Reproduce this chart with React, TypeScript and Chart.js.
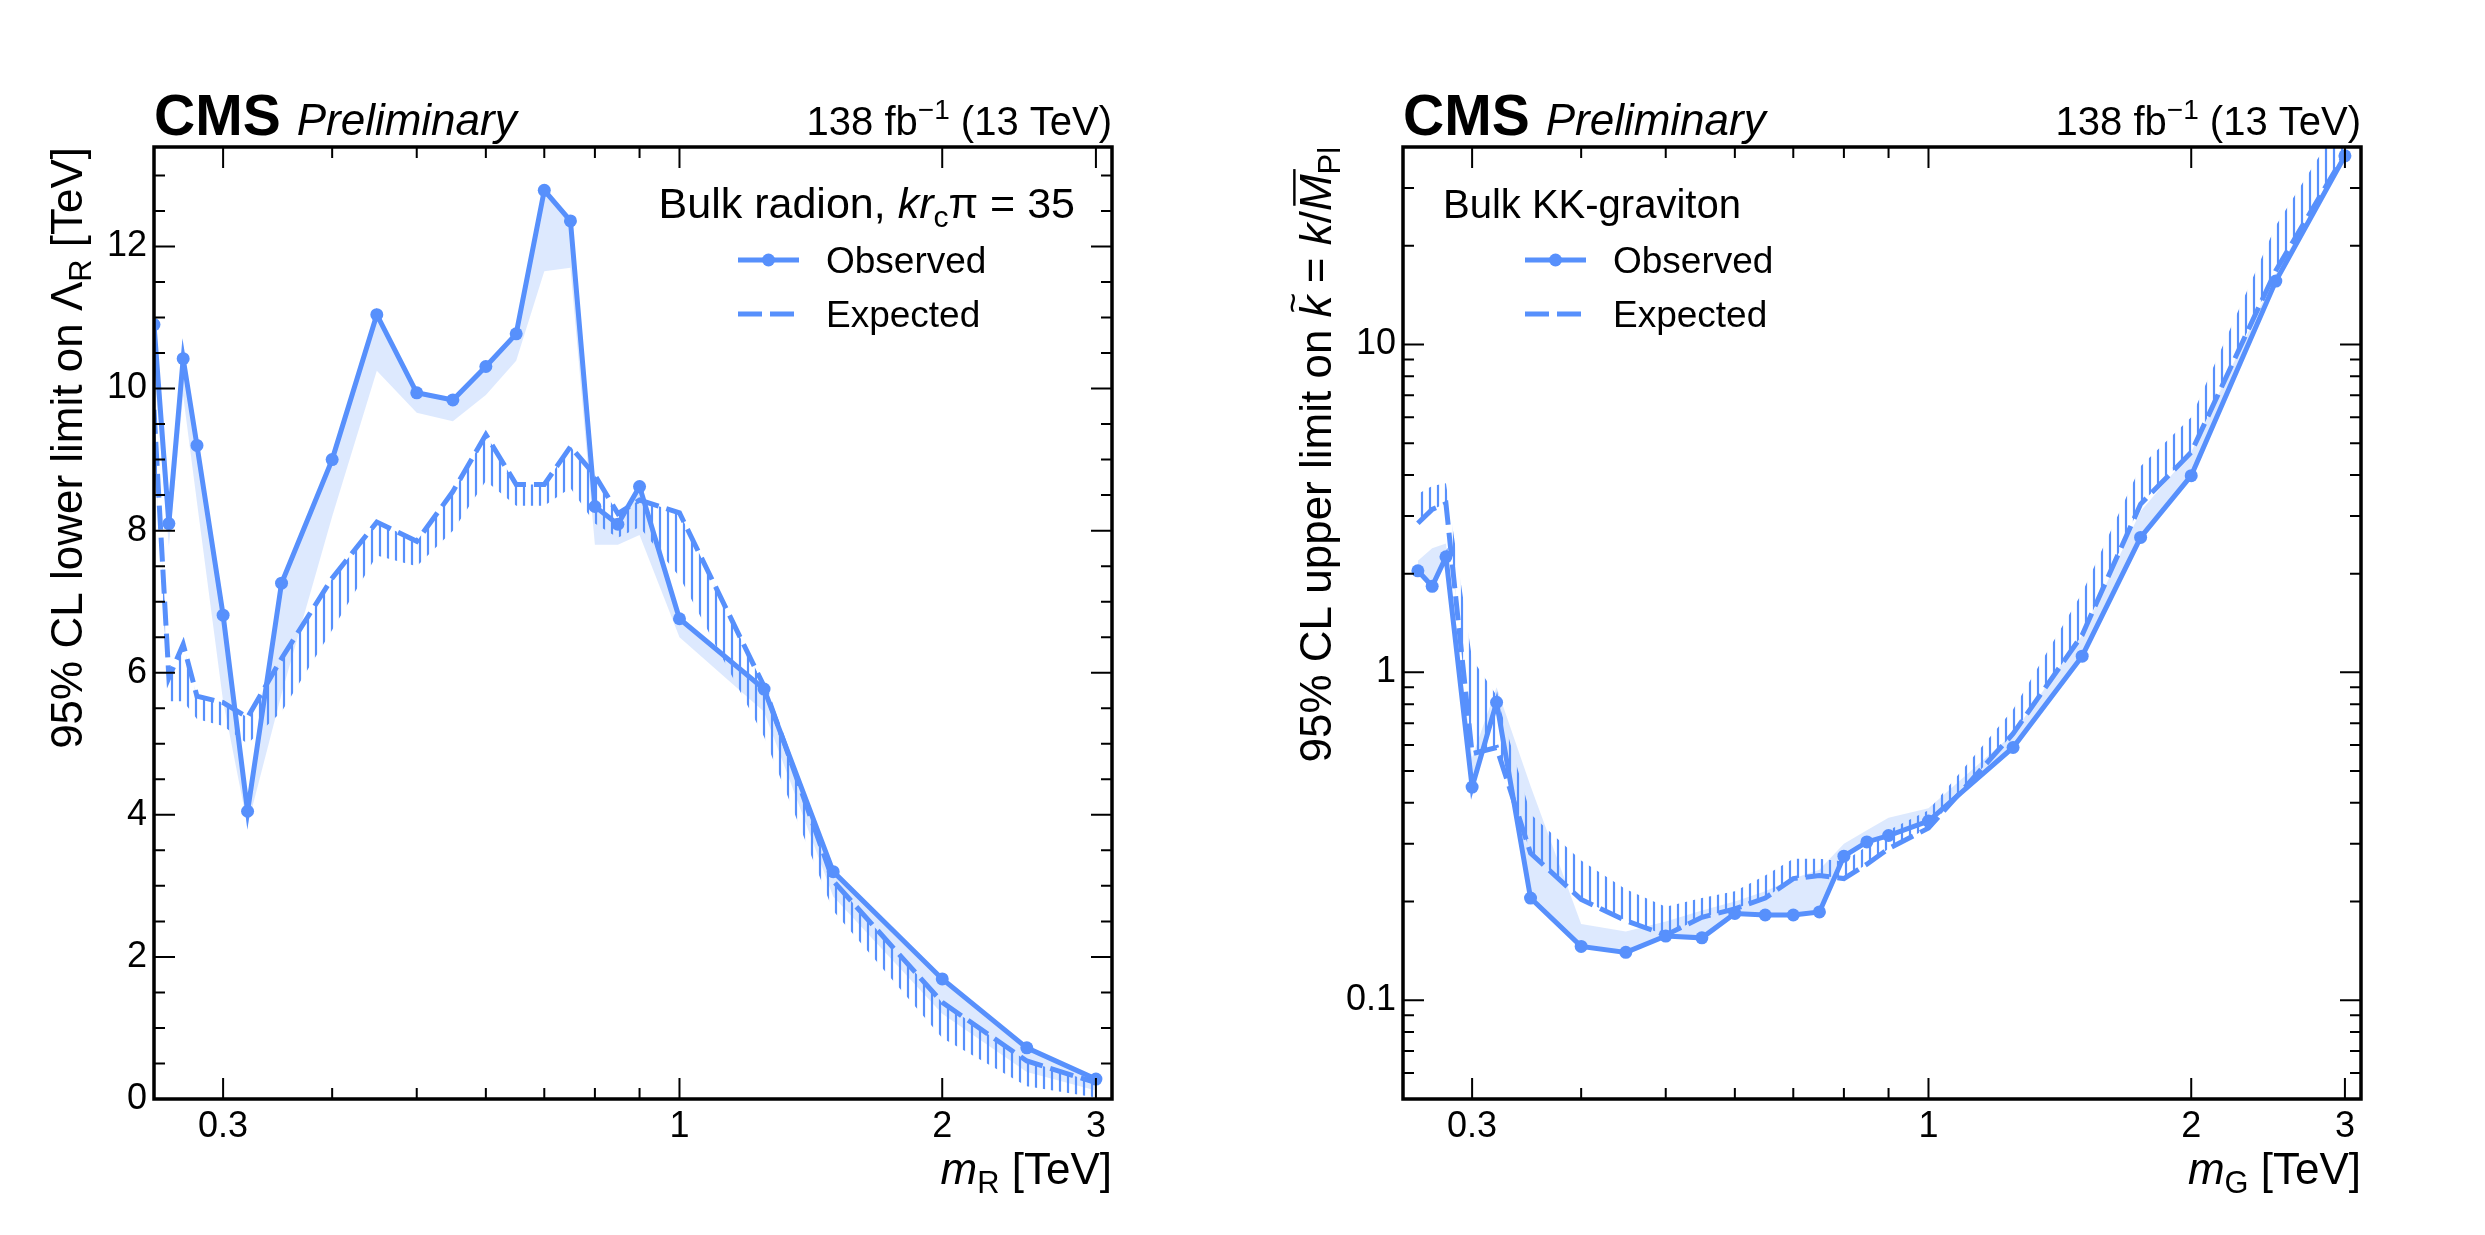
import { useEffect, useRef } from "react"
import { Chart, registerables } from "chart.js"

Chart.register(...registerables)

const BLUE = "#5790fc"
const BAND = "rgba(87, 144, 252, 0.2)"
const FONT = '"Liberation Sans", Arial, Helvetica, sans-serif'

const PLOT_TOP = 147
const PLOT_BOTTOM = 1099
const HEIGHT = 1235

// Bulk radion (left panel), lower limit on Lambda_R [TeV]
const radionMass = [0.25, 0.26, 0.27, 0.28, 0.3, 0.32, 0.35, 0.4, 0.45, 0.5, 0.55, 0.6, 0.65, 0.7, 0.75, 0.8, 0.85, 0.9, 1.0, 1.25, 1.5, 2.0, 2.5, 3.0]
const radionObserved = [10.9, 8.1, 10.42, 9.2, 6.81, 4.05, 7.26, 9.0, 11.04, 9.94, 9.84, 10.31, 10.77, 12.79, 12.36, 8.34, 8.09, 8.62, 6.76, 5.77, 3.2, 1.69, 0.72, 0.28]
const radionObservedBand = [10.3, 7.78, 9.9, 8.4, 5.6, 3.85, 5.7, 8.2, 10.25, 9.66, 9.54, 9.91, 10.39, 11.65, 11.7, 7.8, 7.8, 7.94, 6.5, 5.45, 2.85, 1.2, 0.38, 0.12]
const radionExpected = [9.7, 5.93, 6.4, 5.67, 5.58, 5.37, 6.2, 7.33, 8.12, 7.85, 8.55, 9.35, 8.65, 8.65, 9.18, 8.78, 8.24, 8.43, 8.25, 5.81, 3.07, 1.36, 0.535, 0.23]
const radionExpectedHatch = [9.2, 5.6, 5.6, 5.35, 5.25, 5.0, 5.45, 6.6, 7.65, 7.5, 8.0, 8.7, 8.35, 8.35, 8.6, 8.1, 7.9, 8.05, 7.35, 5.1, 2.65, 0.86, 0.18, 0.02]

// Bulk KK-graviton (right panel), upper limit on k~
const gravitonMass = [0.26, 0.27, 0.28, 0.3, 0.32, 0.35, 0.4, 0.45, 0.5, 0.55, 0.6, 0.65, 0.7, 0.75, 0.8, 0.85, 0.9, 1.0, 1.25, 1.5, 1.75, 2.0, 2.5, 3.0]
const gravitonObserved = [2.04, 1.83, 2.25, 0.447, 0.81, 0.205, 0.146, 0.14, 0.157, 0.155, 0.184, 0.182, 0.182, 0.186, 0.275, 0.304, 0.318, 0.352, 0.59, 1.12, 2.58, 3.98, 15.6, 37.6]
const gravitonObservedBand = [2.19, 2.39, 2.47, 0.55, 0.9, 0.45, 0.171, 0.162, 0.174, 0.188, 0.2, 0.215, 0.235, 0.25, 0.3, 0.33, 0.36, 0.385, 0.65, 1.3, 3.1, 4.7, 16.4, 38.5]
const gravitonExpected = [2.85, 3.14, 3.27, 0.565, 0.59, 0.281, 0.203, 0.175, 0.158, 0.179, 0.19, 0.205, 0.235, 0.24, 0.235, 0.26, 0.29, 0.335, 0.65, 1.3, 3.26, 4.69, 16.8, 38]
const gravitonExpectedHatch = [3.5, 3.7, 3.77, 1.1, 0.85, 0.37, 0.267, 0.218, 0.193, 0.205, 0.215, 0.24, 0.27, 0.27, 0.265, 0.295, 0.33, 0.38, 0.77, 1.75, 4.25, 6.0, 23, 50]

const xTicks = [0.3, 1, 2, 3]
const xMinorTicks = [0.4, 0.5, 0.6, 0.7, 0.8, 0.9]
const radionYTicks = [0, 2, 4, 6, 8, 10, 12]
const gravitonYTicks = [0.1, 1, 10]

type Seg = { t: string; it?: boolean; b?: boolean; sub?: boolean; sup?: boolean; tilde?: boolean; bar?: boolean }

function segFont(s: Seg, size: number) {
  const sz = s.sub || s.sup ? size * 0.7 : size
  return `${s.it ? "italic " : ""}${s.b ? "bold " : ""}${sz}px ${FONT}`
}

function richWidth(ctx: CanvasRenderingContext2D, segs: Seg[], size: number) {
  let w = 0
  for (const s of segs) {
    ctx.font = segFont(s, size)
    w += ctx.measureText(s.t).width
  }
  return w
}

function drawRich(ctx: CanvasRenderingContext2D, segs: Seg[], x: number, y: number, size: number, align: "left" | "right") {
  const w = richWidth(ctx, segs, size)
  let cx = align === "right" ? x - w : x
  ctx.textAlign = "left"
  ctx.textBaseline = "alphabetic"
  ctx.fillStyle = "#000"
  for (const s of segs) {
    ctx.font = segFont(s, size)
    const sw = ctx.measureText(s.t).width
    const dy = s.sub ? size * 0.2 : s.sup ? -size * 0.4 : 0
    ctx.fillText(s.t, cx, y + dy)
    if (s.tilde) {
      ctx.font = `${size * 0.8}px ${FONT}`
      ctx.textAlign = "center"
      ctx.fillText("~", cx + sw / 2 + size * 0.08, y - size * 0.6)
      ctx.textAlign = "left"
    }
    if (s.bar) {
      ctx.fillRect(cx + size * 0.12, y - size * 0.86, sw, size * 0.055)
    }
    cx += sw
  }
  return w
}

type PanelProps = {
  mass: number[]
  observed: number[]
  observedBand: number[]
  expected: number[]
  expectedHatch: number[]
  yLog: boolean
  yMin: number
  yMax: number
  yTicks: number[]
  yLabel: Seg[]
  xLabel: Seg[]
  legendTitle: Seg[]
  legendTitleSize: number
  legendTitleAlign: "left" | "right"
  legendTitleX: number
  sampleX: number
  width: number
  plotLeft: number
  plotRight: number
  offsetX: number
}

function LimitPanel(p: PanelProps) {
  const chartRef = useRef<HTMLCanvasElement>(null)
  const chartInstance = useRef<Chart | null>(null)

  useEffect(() => {
    if (!chartRef.current) return
    const ctx = chartRef.current.getContext("2d")
    if (!ctx) return
    if (chartInstance.current) chartInstance.current.destroy()

    // vertical hatching for the expected-limit side
    const tile = document.createElement("canvas")
    tile.width = 8
    tile.height = 8
    const g = tile.getContext("2d")!
    g.strokeStyle = BLUE
    g.lineWidth = 2.2
    g.beginPath()
    g.moveTo(4, 0)
    g.lineTo(4, 8)
    g.stroke()
    const hatch = ctx.createPattern(tile, "repeat")

    const pts = (ys: number[]) => p.mass.map((m, i) => ({ x: m, y: ys[i] }))

    const decor = {
      id: "cmsDecor",
      afterDraw(chart: any) {
        const c: CanvasRenderingContext2D = chart.ctx
        const a = chart.chartArea
        const xs = chart.scales.x
        const ys = chart.scales.y
        c.save()
        c.strokeStyle = "#000"
        c.fillStyle = "#000"

        const xTick = (v: number, len: number) => {
          const px = xs.getPixelForValue(v)
          c.beginPath()
          c.moveTo(px, a.bottom)
          c.lineTo(px, a.bottom - len)
          c.moveTo(px, a.top)
          c.lineTo(px, a.top + len)
          c.stroke()
        }
        const yTick = (v: number, len: number) => {
          const py = ys.getPixelForValue(v)
          c.beginPath()
          c.moveTo(a.left, py)
          c.lineTo(a.left + len, py)
          c.moveTo(a.right, py)
          c.lineTo(a.right - len, py)
          c.stroke()
        }
        c.lineWidth = 2
        xTicks.forEach((v) => xTick(v, 21))
        xMinorTicks.forEach((v) => xTick(v, 11))
        p.yTicks.forEach((v) => yTick(v, 21))
        if (p.yLog) {
          for (const d of [0.01, 0.1, 1, 10]) {
            for (let k = 2; k <= 9; k++) {
              const v = k * d
              if (v > p.yMin * 1.001 && v < p.yMax) yTick(v, 11)
            }
          }
        } else {
          for (let v = 0.5; v < p.yMax; v += 0.5) {
            if (v % 2 !== 0) yTick(v, 11)
          }
        }
        c.lineWidth = 3.5
        c.strokeRect(a.left, a.top, a.right - a.left, a.bottom - a.top)

        // header
        c.textAlign = "left"
        c.textBaseline = "alphabetic"
        c.font = `bold 57px ${FONT}`
        c.fillText("CMS", a.left, 135)
        const cmsW = c.measureText("CMS").width
        c.font = `italic 44px ${FONT}`
        c.fillText("Preliminary", a.left + cmsW + 16, 135)
        drawRich(c, [{ t: "138 fb" }, { t: "\u22121", sup: true }, { t: " (13 TeV)" }], a.right, 135, 40, "right")

        // axis titles
        drawRich(c, p.xLabel, a.right, 1184, 44, "right")
        c.save()
        c.translate(a.left - 72, a.top)
        c.rotate(-Math.PI / 2)
        drawRich(c, p.yLabel, 0, 0, 44, "right")
        c.restore()

        // legend
        drawRich(c, p.legendTitle, p.legendTitleX, 218, p.legendTitleSize, p.legendTitleAlign)
        c.strokeStyle = BLUE
        c.lineWidth = 5
        c.beginPath()
        c.moveTo(p.sampleX, 260)
        c.lineTo(p.sampleX + 61, 260)
        c.stroke()
        c.fillStyle = BLUE
        c.beginPath()
        c.arc(p.sampleX + 30.5, 260, 6.5, 0, Math.PI * 2)
        c.fill()
        c.setLineDash([24, 8])
        c.beginPath()
        c.moveTo(p.sampleX, 314)
        c.lineTo(p.sampleX + 61, 314)
        c.stroke()
        c.setLineDash([])
        c.fillStyle = "#000"
        c.font = `37px ${FONT}`
        c.textAlign = "left"
        c.fillText("Observed", p.sampleX + 88, 273)
        c.fillText("Expected", p.sampleX + 88, 327)
        c.restore()
      },
    }

    chartInstance.current = new Chart(ctx, {
      type: "line",
      data: {
        datasets: [
          {
            label: "Observed",
            data: pts(p.observed),
            borderColor: BLUE,
            backgroundColor: BLUE,
            borderWidth: 5,
            pointRadius: 6.5,
            pointBorderWidth: 0,
            pointBackgroundColor: BLUE,
            fill: false,
          },
          {
            label: "Expected",
            data: pts(p.expected),
            borderColor: BLUE,
            borderWidth: 5,
            borderDash: [24, 8],
            pointRadius: 0,
            fill: false,
          },
          {
            label: "Observed band",
            data: pts(p.observedBand),
            borderColor: "rgba(0,0,0,0)",
            borderWidth: 0,
            pointRadius: 0,
            backgroundColor: BAND,
            fill: 0,
          },
          {
            label: "Expected hatch",
            data: pts(p.expectedHatch),
            borderColor: "rgba(0,0,0,0)",
            borderWidth: 0,
            pointRadius: 0,
            backgroundColor: hatch as any,
            fill: 1,
          },
        ],
      },
      options: {
        animation: false,
        responsive: false,
        devicePixelRatio: 1,
        events: [],
        layout: { padding: { top: PLOT_TOP, right: p.width - p.plotRight, left: 0, bottom: 0 } },
        plugins: {
          legend: { display: false },
          tooltip: { enabled: false },
          filler: { drawTime: "beforeDatasetsDraw" },
        },
        scales: {
          x: {
            type: "logarithmic",
            min: 0.25,
            max: 3.13,
            grid: { display: false, drawTicks: false },
            border: { display: false },
            ticks: {
              color: "#000",
              font: { size: 36, family: FONT },
              padding: 6,
              autoSkip: false,
              maxRotation: 0,
              callback: (v: any) => String(v),
            },
            afterBuildTicks: (s: any) => {
              s.ticks = xTicks.map((v) => ({ value: v }))
            },
            afterFit: (s: any) => {
              s.height = HEIGHT - PLOT_BOTTOM
            },
          },
          y: {
            type: p.yLog ? "logarithmic" : "linear",
            min: p.yMin,
            max: p.yMax,
            grid: { display: false, drawTicks: false },
            border: { display: false },
            ticks: {
              color: "#000",
              font: { size: 36, family: FONT },
              padding: 7,
              autoSkip: false,
              callback: (v: any) => String(v),
            },
            afterBuildTicks: (s: any) => {
              s.ticks = p.yTicks.map((v) => ({ value: v }))
            },
            afterFit: (s: any) => {
              s.width = p.plotLeft
            },
          },
        },
      },
      plugins: [decor],
    } as any)

    return () => {
      if (chartInstance.current) {
        chartInstance.current.destroy()
        chartInstance.current = null
      }
    }
  }, [])

  return (
    <canvas
      ref={chartRef}
      width={p.width}
      height={HEIGHT}
      style={{ position: "absolute", left: p.offsetX, top: 0, width: p.width, height: HEIGHT }}
    />
  )
}

export default function App() {
  return (
    <div style={{ position: "absolute", left: 0, top: 0, width: 2485, height: HEIGHT, background: "#fff", overflow: "hidden" }}>
      <LimitPanel
        mass={radionMass}
        observed={radionObserved}
        observedBand={radionObservedBand}
        expected={radionExpected}
        expectedHatch={radionExpectedHatch}
        yLog={false}
        yMin={0}
        yMax={13.4}
        yTicks={radionYTicks}
        yLabel={[{ t: "95% CL lower limit on \u039b" }, { t: "R", sub: true }, { t: " [TeV]" }]}
        xLabel={[{ t: "m", it: true }, { t: "R", sub: true }, { t: " [TeV]" }]}
        legendTitle={[{ t: "Bulk radion, " }, { t: "kr", it: true }, { t: "c", sub: true }, { t: "\u03c0 = 35" }]}
        legendTitleSize={43}
        legendTitleAlign="right"
        legendTitleX={1075}
        sampleX={738}
        width={1242}
        plotLeft={154}
        plotRight={1112}
        offsetX={0}
      />
      <LimitPanel
        mass={gravitonMass}
        observed={gravitonObserved}
        observedBand={gravitonObservedBand}
        expected={gravitonExpected}
        expectedHatch={gravitonExpectedHatch}
        yLog={true}
        yMin={0.05}
        yMax={40}
        yTicks={gravitonYTicks}
        yLabel={[
          { t: "95% CL upper limit on " },
          { t: "k", it: true, tilde: true },
          { t: " = " },
          { t: "k", it: true },
          { t: "/" },
          { t: "M", it: true, bar: true },
          { t: "Pl", sub: true },
        ]}
        xLabel={[{ t: "m", it: true }, { t: "G", sub: true }, { t: " [TeV]" }]}
        legendTitle={[{ t: "Bulk KK-graviton" }]}
        legendTitleSize={40}
        legendTitleAlign="left"
        legendTitleX={201}
        sampleX={283}
        width={1243}
        plotLeft={161}
        plotRight={1119}
        offsetX={1242}
      />
    </div>
  )
}
